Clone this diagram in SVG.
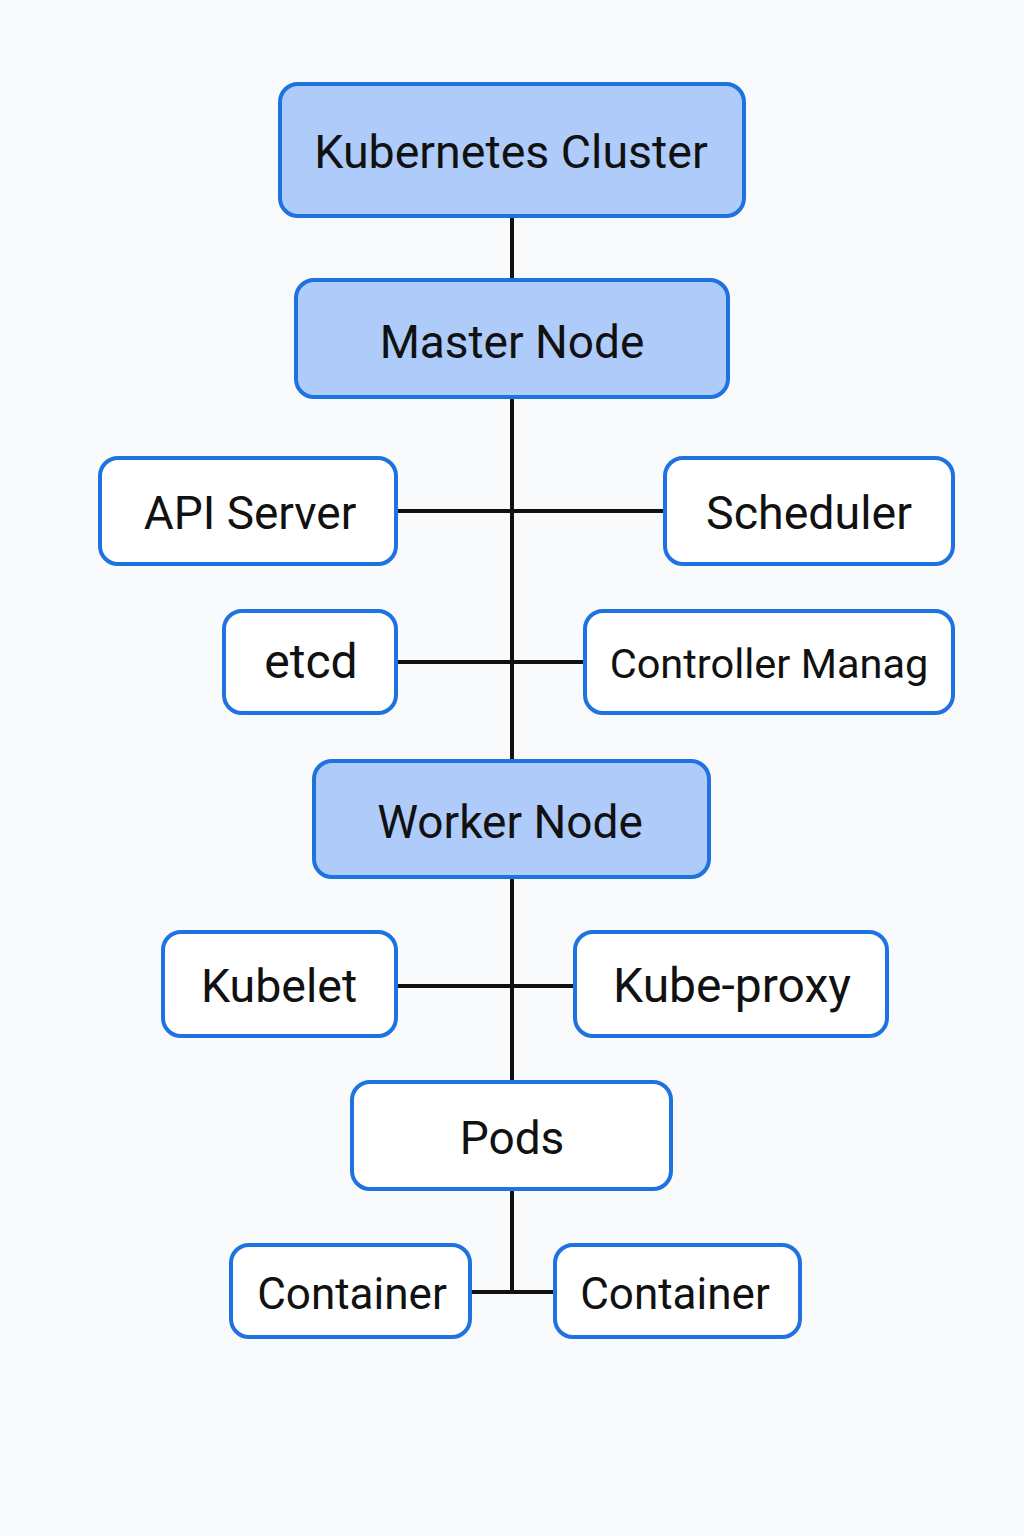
<svg xmlns="http://www.w3.org/2000/svg" width="1024" height="1536" viewBox="0 0 1024 1536">
<style>
.box{fill:#ffffff;stroke:#1f73e0;stroke-width:4}
.hl{fill:#aecbfa}
.lbl{font-family:Roboto,"Liberation Sans",sans-serif;font-size:46px;fill:#111111;text-anchor:middle}
.conn{stroke:#111111;stroke-width:4;fill:none}
</style>
<rect width="1024" height="1536" fill="#f9fafb"/>
<g id="connectors">
<line class="conn" x1="512" y1="216" x2="512" y2="280"/>
<line class="conn" x1="512" y1="397" x2="512" y2="761"/>
<line class="conn" x1="512" y1="877" x2="512" y2="1082"/>
<line class="conn" x1="512" y1="1189" x2="512" y2="1292"/>
<line class="conn" x1="396" y1="511" x2="665" y2="511"/>
<line class="conn" x1="396" y1="662" x2="585" y2="662"/>
<line class="conn" x1="396" y1="986" x2="575" y2="986"/>
<line class="conn" x1="470" y1="1292" x2="555" y2="1292"/>
</g>
<g id="cluster"><rect class="box hl" x="280" y="84" width="464" height="132" rx="18"/><text class="lbl" x="511" y="168" style="font-size:46.5px">Kubernetes Cluster</text></g>
<g id="master"><rect class="box hl" x="296" y="280" width="432" height="117" rx="18"/><text class="lbl" x="512" y="358">Master Node</text></g>
<g id="apiserver"><rect class="box" x="100" y="458" width="296" height="106" rx="18"/><text class="lbl" x="250" y="529">API Server</text></g>
<g id="scheduler"><rect class="box" x="665" y="458" width="288" height="106" rx="18"/><text class="lbl" x="809" y="529" style="font-size:46.5px">Scheduler</text></g>
<g id="etcd"><rect class="box" x="224" y="611" width="172" height="102" rx="18"/><text class="lbl" x="311" y="678" style="font-size:48px">etcd</text></g>
<g id="controller"><rect class="box" x="585" y="611" width="368" height="102" rx="18"/><text class="lbl" x="769" y="678" style="font-size:41.5px">Controller Manag</text></g>
<g id="worker"><rect class="box hl" x="314" y="761" width="395" height="116" rx="18"/><text class="lbl" x="510" y="838">Worker Node</text></g>
<g id="kubelet"><rect class="box" x="163" y="932" width="233" height="104" rx="18"/><text class="lbl" x="279" y="1002" style="font-size:46.5px">Kubelet</text></g>
<g id="kubeproxy"><rect class="box" x="575" y="932" width="312" height="104" rx="18"/><text class="lbl" x="732" y="1002" style="font-size:48px">Kube-proxy</text></g>
<g id="pods"><rect class="box" x="352" y="1082" width="319" height="107" rx="18"/><text class="lbl" x="512" y="1154">Pods</text></g>
<g id="container1"><rect class="box" x="231" y="1245" width="239" height="92" rx="18"/><text class="lbl" x="352" y="1309" style="font-size:44px">Container</text></g>
<g id="container2"><rect class="box" x="555" y="1245" width="245" height="92" rx="18"/><text class="lbl" x="675" y="1309" style="font-size:44px">Container</text></g>
</svg>
